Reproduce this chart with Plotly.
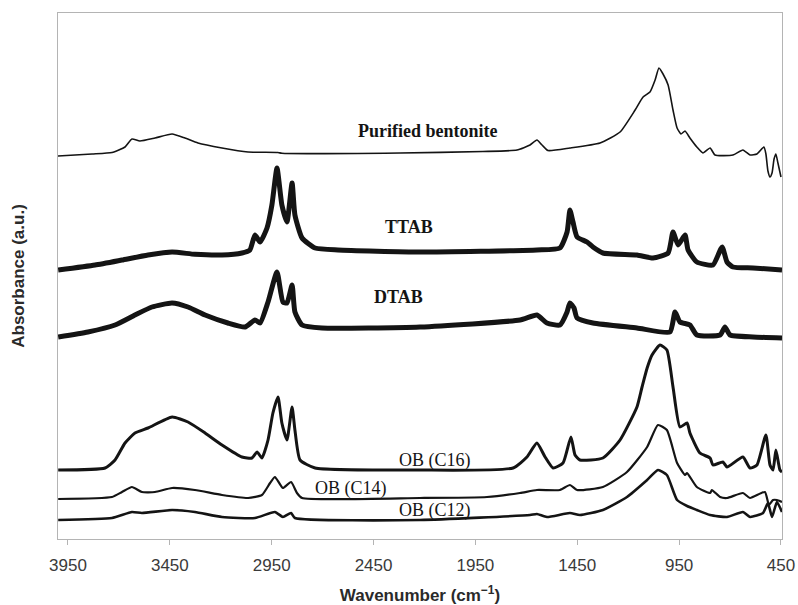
import plotly.graph_objects as go

# ---------------- data (wavenumber cm-1, absorbance a.u. incl. stacking offset) -------------
bent_wn = [3999, 3832, 3734, 3670, 3636, 3597, 3523, 3439, 3376, 3312, 3194, 3066, 2919, 2900,
           2320, 1913, 1746, 1682, 1648, 1623, 1594, 1486, 1338, 1240, 1166, 1127, 1093, 1068,
           1049, 1029, 1004, 980, 960, 941, 921, 897, 863, 833, 798, 774, 686, 637, 602, 568,
           534, 524, 514, 504, 494, 484, 475, 465, 450]
bent_ab = [3.83, 3.85, 3.865, 3.92, 4.00, 3.98, 4.01, 4.05, 4.01, 3.96, 3.91, 3.87, 3.865, 3.857,
           3.86, 3.875, 3.89, 3.94, 3.99, 3.94, 3.885, 3.91, 3.96, 4.07, 4.29, 4.42, 4.47, 4.59,
           4.71, 4.65, 4.54, 4.29, 4.11, 4.05, 4.08, 4.01, 3.92, 3.86, 3.91, 3.84, 3.84, 3.89,
           3.84, 3.85, 3.92, 3.85, 3.68, 3.62, 3.66, 3.80, 3.85, 3.76, 3.62]

ttab_wn = [3998, 3817, 3685, 3557, 3439, 3327, 3194, 3096, 3057, 3032, 3007, 2973, 2949, 2924,
           2900, 2875, 2850, 2836, 2801, 2737, 2625, 2222, 1648, 1535, 1500, 1486, 1471, 1451,
           1402, 1373, 1324, 1157, 1078, 1004, 980, 955, 921, 906, 863, 784, 739, 715, 686,
           587, 445]
ttab_ab = [2.69, 2.74, 2.79, 2.84, 2.87, 2.847, 2.84, 2.86, 2.89, 3.04, 2.97, 3.11, 3.34, 3.71,
           3.34, 3.17, 3.56, 3.24, 3.01, 2.91, 2.89, 2.87, 2.89, 2.91, 3.07, 3.29, 3.17, 3.02,
           2.97, 2.92, 2.86, 2.84, 2.81, 2.86, 3.07, 2.94, 3.04, 2.89, 2.77, 2.74, 2.92, 2.77,
           2.72, 2.71, 2.69]

dtab_wn = [3998, 3852, 3719, 3621, 3538, 3439, 3361, 3277, 3165, 3081, 3032, 3007, 2968, 2924,
           2895, 2875, 2850, 2836, 2801, 2703, 2222, 1731, 1648, 1599, 1535, 1500, 1486, 1466,
           1451, 1373, 1157, 995, 970, 946, 897, 863, 749, 725, 700, 587, 445]
dtab_ab = [2.02, 2.07, 2.14, 2.24, 2.32, 2.36, 2.32, 2.24, 2.16, 2.12, 2.19, 2.16, 2.37, 2.67,
           2.37, 2.36, 2.54, 2.27, 2.14, 2.11, 2.12, 2.19, 2.24, 2.16, 2.14, 2.27, 2.36, 2.31,
           2.21, 2.16, 2.11, 2.07, 2.27, 2.17, 2.14, 2.04, 2.04, 2.12, 2.04, 2.02, 2.01]

c16_wn = [3998, 3768, 3719, 3670, 3621, 3557, 3439, 3361, 3277, 3194, 3096, 3047, 3022, 2998,
          2968, 2944, 2919, 2900, 2875, 2850, 2836, 2811, 2737, 2222, 1765, 1697, 1648, 1608,
          1569, 1520, 1481, 1461, 1437, 1324, 1240, 1157, 1132, 1107, 1083, 1044, 1010, 980,
          946, 911, 897, 848, 798, 784, 735, 715, 637, 602, 568, 524, 504, 489, 475, 455, 445]
c16_ab = [0.69, 0.71, 0.79, 0.96, 1.06, 1.11, 1.22, 1.17, 1.06, 0.94, 0.82, 0.81, 0.87, 0.81,
          0.99, 1.26, 1.42, 1.16, 0.99, 1.32, 1.09, 0.79, 0.71, 0.69, 0.71, 0.82, 0.96, 0.82,
          0.71, 0.76, 1.02, 0.84, 0.79, 0.81, 0.99, 1.32, 1.52, 1.71, 1.84, 1.94, 1.89, 1.52,
          1.12, 1.16, 1.06, 0.86, 0.81, 0.74, 0.77, 0.72, 0.82, 0.71, 0.74, 1.04, 0.74, 0.69,
          0.89, 0.69, 0.67]

c14_wn = [3998, 3734, 3685, 3636, 3587, 3523, 3439, 3327, 3194, 3066, 2998, 2958, 2934, 2895,
          2855, 2826, 2801, 2222, 1893, 1731, 1648, 1535, 1486, 1451, 1324, 1206, 1107, 1054,
          1010, 960, 921, 911, 863, 798, 789, 749, 715, 637, 602, 529, 509, 489, 470, 445]
c14_ab = [0.40, 0.42, 0.47, 0.52, 0.47, 0.47, 0.51, 0.49, 0.44, 0.41, 0.44, 0.56, 0.62, 0.51,
          0.57, 0.46, 0.41, 0.41, 0.42, 0.46, 0.49, 0.49, 0.54, 0.49, 0.52, 0.67, 0.92, 1.14,
          1.09, 0.76, 0.64, 0.66, 0.52, 0.46, 0.49, 0.42, 0.41, 0.46, 0.41, 0.47, 0.34, 0.39,
          0.39, 0.37]

c12_wn = [3998, 3734, 3636, 3587, 3439, 3327, 3194, 3032, 2934, 2895, 2855, 2836, 2222, 1682,
          1648, 1599, 1486, 1437, 1324, 1206, 1107, 1054, 1010, 960, 911, 863, 798, 715, 637,
          602, 538, 514, 494, 470, 445]
c12_ab = [0.19, 0.21, 0.27, 0.26, 0.29, 0.27, 0.22, 0.21, 0.27, 0.22, 0.26, 0.21, 0.19, 0.24,
          0.25, 0.22, 0.26, 0.24, 0.29, 0.42, 0.59, 0.69, 0.64, 0.39, 0.33, 0.29, 0.24, 0.22,
          0.27, 0.22, 0.26, 0.36, 0.22, 0.37, 0.27]

tick_vals = [3950, 3450, 2950, 2450, 1950, 1450, 950, 450]

labels = ["Purified bentonite", "TTAB", "DTAB", "OB (C16)", "OB (C14)", "OB (C12)"]
label_wn = [2183, 2276, 2330, 2148, 2561, 2148]
label_ab = [4.08, 3.12, 2.42, 0.79, 0.51, 0.29]
label_bold = [True, True, True, False, False, False]

# ---------------- figure -------------
series = [
    (bent_wn, bent_ab, 1.6),
    (ttab_wn, ttab_ab, 5.0),
    (dtab_wn, dtab_ab, 5.0),
    (c16_wn, c16_ab, 3.0),
    (c14_wn, c14_ab, 2.2),
    (c12_wn, c12_ab, 2.6),
]

fig = go.Figure()
for xs, ys, w in series:
    fig.add_trace(go.Scatter(x=xs, y=ys, mode="lines",
                             line=dict(color="#141414", width=w, shape="spline", smoothing=0.5),
                             showlegend=False, hoverinfo="skip"))

for t, xw, ya, b in zip(labels, label_wn, label_ab, label_bold):
    fig.add_annotation(x=xw, y=ya, xref="x", yref="y", showarrow=False,
                       text=f"<b>{t}</b>" if b else t,
                       font=dict(family="Liberation Serif, Times New Roman, serif",
                                 size=18, color="#141414"))

axis_col = "#b4b4b4"
fig.update_xaxes(range=[3999, 445], tickvals=tick_vals, ticktext=[str(v) for v in tick_vals],
                 ticks="outside", ticklen=5, tickcolor=axis_col, tickwidth=1,
                 showline=True, linecolor=axis_col, linewidth=1, mirror=True,
                 showgrid=False, zeroline=False,
                 tickfont=dict(family="Liberation Sans, Arial, sans-serif", size=17, color="#3a3a3a"),
                 ticklabelstandoff=6,
                 title=dict(text="<b>Wavenumber (cm<sup>−1</sup>)</b>", standoff=14,
                            font=dict(family="Liberation Sans, Arial, sans-serif", size=17,
                                      color="#2a2a2a")))
fig.update_yaxes(range=[0, 5.26], showticklabels=False, ticks="",
                 showline=True, linecolor=axis_col, linewidth=1, mirror=True,
                 showgrid=False, zeroline=False,
                 title=dict(text="<b>Absorbance (a.u.)</b>", standoff=28,
                            font=dict(family="Liberation Sans, Arial, sans-serif", size=17,
                                      color="#2a2a2a")))

fig.update_layout(width=798, height=605, plot_bgcolor="white", paper_bgcolor="white",
                  margin=dict(l=58, r=16, t=13, b=66, autoexpand=False))

fig.write_html("out.html")
